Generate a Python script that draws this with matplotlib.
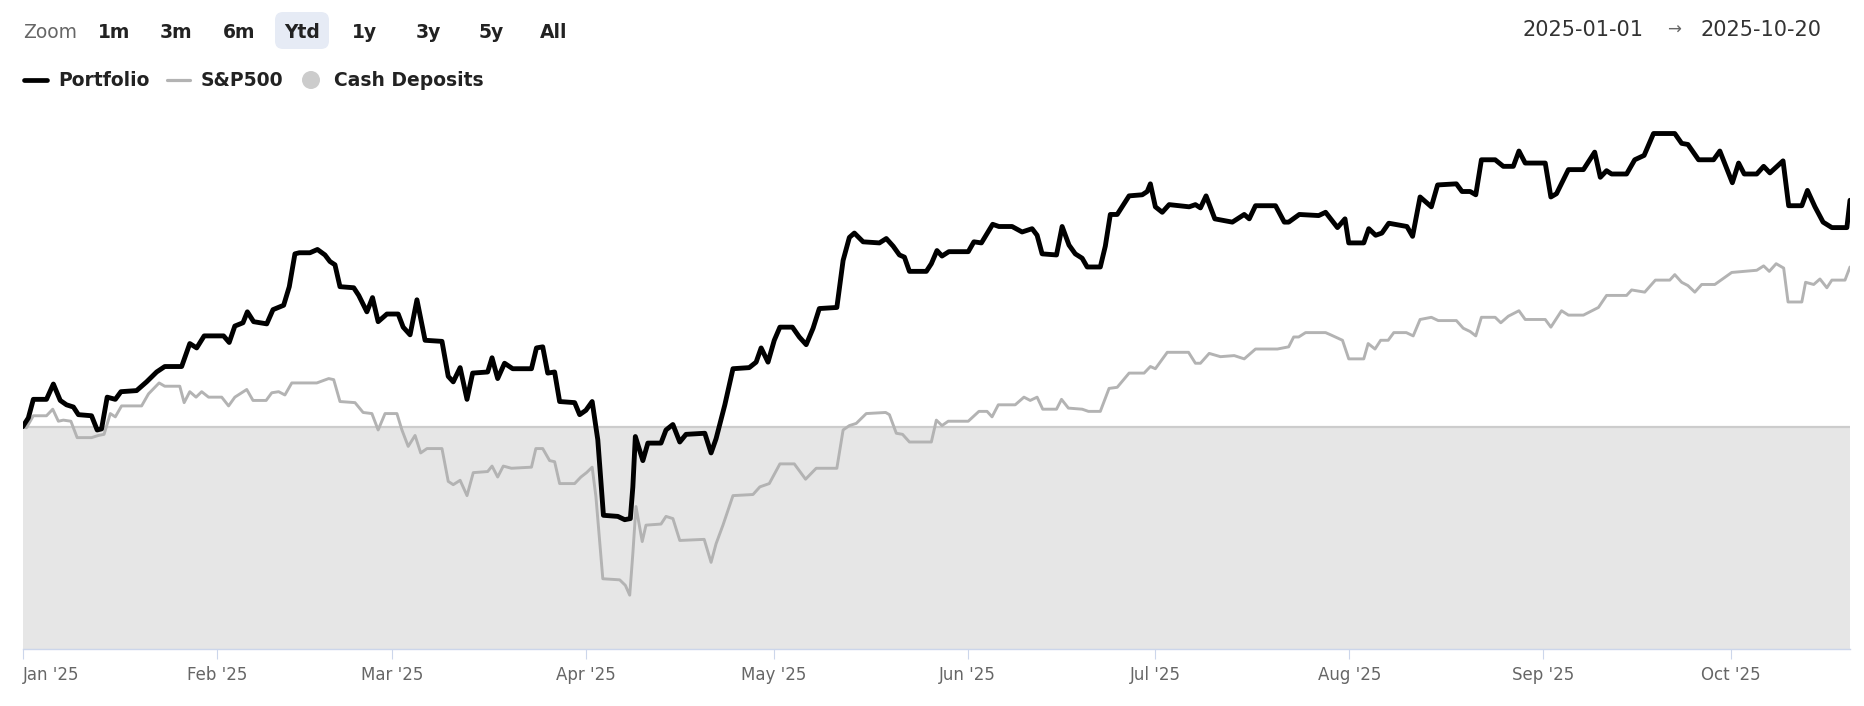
import pandas as pd
import matplotlib
matplotlib.use('Agg')
import matplotlib.pyplot as plt
import matplotlib.dates as mdates
from matplotlib.lines import Line2D
from matplotlib.patches import FancyBboxPatch, Circle

plt.rcParams['font.family'] = ['DejaVu Sans']

# date range shown (Ytd)
start = pd.Timestamp('2025-01-01')
end = pd.Timestamp('2025-10-20')

# days since 2025-01-01 and cumulative return (%)
portfolio_days = [
    0, 0.9, 1.7, 3.8, 4.9, 6.0, 7.0, 8.1, 8.9, 11.0, 11.9, 12.6, 13.5, 14.8, 15.7,
    18.2, 19.8, 21.4, 22.7, 25.4, 26.7, 27.8, 29.0, 32.1, 33.0, 33.9, 35.2, 35.9,
    36.9, 39.0, 40.0, 41.7, 42.6, 43.5, 44.2, 45.9, 47.1, 48.3, 49.1, 49.9, 50.7,
    52.9, 53.7, 55.0, 55.9, 56.8, 58.2, 60.0, 60.8, 61.9, 63.0, 64.3, 67.0, 68.0,
    68.8, 69.9, 71.0, 71.9, 74.3, 75.0, 75.9, 77.0, 78.3, 81.3, 82.1, 83.1, 83.9,
    85.0, 85.8, 88.2, 89.0, 90.0, 91.0, 91.9, 92.8, 95.1, 96.2, 97.1, 97.5, 97.9,
    99.1, 99.9, 102.0, 102.8, 103.9, 105.0, 106.0, 109.0, 110.0, 110.8, 112.2,
    113.5, 116.1, 117.2, 118.0, 119.1, 120.1, 121.0, 123.0, 124.1, 125.2, 126.3,
    127.3, 130.1, 131.1, 132.1, 132.9, 134.3, 136.9, 138.0, 139.1, 140.1, 140.9,
    141.7, 144.4, 145.2, 146.1, 146.9, 148.0, 151.1, 152.0, 153.2, 155.0, 156.0,
    158.1, 159.7, 161.3, 162.1, 162.9, 165.2, 166.1, 167.2, 168.2, 169.3, 170.1,
    172.2, 173.0, 173.8, 174.9, 176.8, 178.9, 179.7, 180.2, 181.0, 182.1, 183.2,
    186.4, 187.4, 188.2, 189.1, 190.5, 193.3, 195.2, 196.0, 197.0, 200.2, 201.6,
    202.3, 204.0, 207.1, 208.2, 210.1, 211.3, 211.9, 214.3, 215.1, 216.2, 217.2,
    218.3, 221.2, 222.1, 223.3, 225.1, 226.1, 229.1, 230.0, 231.3, 232.2, 233.1,
    235.3, 236.6, 238.2, 239.1, 240.1, 243.3, 244.2, 245.1, 247.0, 249.4, 251.2,
    252.1, 253.1, 253.9, 256.3, 257.6, 259.1, 260.6, 264.0, 265.1, 266.1, 267.8,
    270.2, 271.2, 273.2, 274.2, 275.1, 277.1, 278.2, 279.2, 281.3, 282.2, 284.3,
    285.2, 286.4, 287.7, 289.1, 291.5, 292.0,
]
portfolio_ret = [
    0.0, 0.8, 2.5, 2.5, 3.9, 2.4, 2.0, 1.8, 1.1, 1.0, -0.3, -0.2, 2.7, 2.5, 3.2,
    3.3, 4.1, 5.0, 5.5, 5.5, 7.6, 7.2, 8.3, 8.3, 7.7, 9.2, 9.5, 10.5,
    9.6, 9.4, 10.7, 11.1, 12.8, 15.8, 15.9, 15.9, 16.2, 15.7, 15.1, 14.8, 12.8,
    12.7, 12.0, 10.5, 11.8, 9.6, 10.3, 10.3, 9.1, 8.4, 11.6, 7.9, 7.8, 4.6,
    4.1, 5.4, 2.5, 4.9, 5.0, 6.3, 4.4, 5.8, 5.3, 5.3, 7.2, 7.3, 4.9,
    5.0, 2.3, 2.2, 1.1, 1.5, 2.3, -1.2, -8.1, -8.2, -8.5, -8.4, -5.5, -0.9,
    -3.1, -1.5, -1.5, -0.3, 0.2, -1.4, -0.7, -0.6, -2.4, -1.1, 2.0,
    5.3, 5.4, 5.9, 7.2, 5.9, 7.9, 9.1, 9.1, 8.2, 7.5, 9.0,
    10.8, 10.9, 15.2, 17.3, 17.7, 16.9, 16.8, 17.2, 16.5, 15.7, 15.5,
    14.2, 14.2, 14.9, 16.1, 15.6, 16.0, 16.0, 16.9, 16.8, 18.5, 18.3,
    18.3, 17.8, 18.1, 17.5, 15.8, 15.7, 18.3, 16.6, 15.8, 15.4, 14.6,
    14.6, 16.5, 19.4, 19.4, 21.1, 21.2, 21.5, 22.2, 20.1, 19.6, 20.3,
    20.1, 20.3, 20.0, 21.1, 19.0, 18.7, 19.4, 19.0, 20.2, 20.2, 18.7,
    18.7, 19.4, 19.3, 19.6, 18.2, 19.0, 16.8, 16.8, 18.1, 17.5, 17.7,
    18.6, 18.3, 17.4, 21.0, 20.1, 22.1, 22.2, 21.5, 21.5, 21.2, 24.4,
    24.4, 23.8, 23.8, 25.2, 24.1, 24.1, 21.0, 21.3, 23.5, 23.5, 25.1,
    22.8, 23.4, 23.1, 23.1, 24.4, 24.8, 26.8, 26.8, 25.9, 25.8, 24.4,
    24.4, 25.2, 22.3, 24.1, 23.1, 23.1, 23.8, 23.2, 24.3, 20.2, 20.2,
    21.6, 20.1, 18.7, 18.2, 18.2, 20.7,
]

sp500_days = [
    0, 0.6, 1.7, 3.8, 4.8, 5.7, 6.5, 7.7, 8.7, 11.0, 12.1, 13.0, 14.0, 14.8, 15.8,
    19.0, 20.1, 21.8, 22.7, 25.1, 25.8, 26.7, 27.7, 28.6, 29.7, 31.8, 32.9, 33.9,
    35.8, 36.8, 38.9, 39.8, 40.9, 41.9, 43.0, 47.0, 48.9, 49.7, 50.7, 53.1, 54.4,
    55.8, 56.8, 57.9, 59.8, 60.6, 61.6, 62.7, 63.6, 64.6, 67.0, 68.0, 68.8, 69.9,
    71.0, 72.0, 74.3, 75.0, 75.9, 76.8, 78.1, 81.3, 82.0, 83.1, 84.2, 85.0, 85.8,
    88.2, 89.2, 90.1, 91.0, 91.6, 92.7, 95.4, 96.3, 97.0, 97.5, 98.0, 99.0, 99.6,
    102.0, 102.8, 103.9, 105.0, 108.9, 110.0, 110.8, 111.9, 113.5, 116.7, 117.8,
    119.3, 121.0, 123.3, 125.1, 126.8, 130.1, 131.1, 132.1, 133.2, 134.8, 137.9,
    138.5, 139.6, 140.6, 141.7, 145.2, 146.0, 146.9, 147.9, 151.1, 152.8, 154.1,
    154.9, 155.9, 158.6, 160.0, 161.0, 162.1, 163.0, 165.2, 166.0, 167.1, 169.3,
    170.3, 172.2, 173.6, 174.9, 176.8, 179.2, 180.2, 181.0, 182.9, 186.3, 187.4,
    188.2, 189.6, 191.4, 193.6, 195.2, 197.0, 200.5, 202.3, 203.1, 203.9, 205.0,
    208.2, 209.0, 210.9, 211.9, 214.3, 215.0, 216.1, 217.0, 218.2, 219.1, 221.1,
    222.2, 223.3, 225.1, 226.2, 229.1, 230.2, 231.3, 232.2, 233.1, 235.3, 236.2,
    237.4, 239.1, 240.1, 243.3, 244.2, 245.9, 247.0, 249.4, 251.8, 253.1, 256.3,
    257.1, 259.2, 260.9, 263.2, 264.0, 265.1, 266.1, 267.2, 268.3, 270.4, 273.1,
    277.1, 278.2, 279.1, 280.2, 281.4, 282.1, 284.3, 284.9, 286.2, 287.2, 288.3,
    289.1, 291.2, 292.0,
]
sp500_ret = [
    0.0, -0.1, 1.0, 1.0, 1.6, 0.5, 0.6, 0.5, -1.0, -1.0, -0.8, -0.7, 1.2, 0.9, 1.9,
    1.9, 3.0, 4.0, 3.7, 3.7, 2.2, 3.2, 2.7, 3.2, 2.7, 2.7, 1.9, 2.7,
    3.4, 2.4, 2.4, 3.1, 3.2, 2.9, 4.0, 4.0, 4.4, 4.3, 2.3, 2.2, 1.3,
    1.2, -0.3, 1.2, 1.2, -0.3, -1.8, -0.8, -2.4, -2.0, -2.0, -5.0, -5.3, -4.9,
    -6.3, -4.2, -4.1, -3.6, -4.6, -3.6, -3.8, -3.7, -2.0, -2.0, -3.1, -3.2, -5.2,
    -5.2, -4.6, -4.2, -3.7, -6.4, -13.9, -14.0, -14.5, -15.4, -11.6, -7.3, -10.5, -9.0,
    -8.9, -8.2, -8.4, -10.4, -10.3, -12.4, -10.7, -9.0, -6.3, -6.2, -5.5,
    -5.2, -3.4, -3.4, -4.8, -3.8, -3.8, -0.3, 0.1, 0.3, 1.2, 1.3,
    1.1, -0.6, -0.7, -1.4, -1.4, 0.6, 0.1, 0.5, 0.5, 1.4, 1.4,
    0.9, 2.0, 2.0, 2.7, 2.4, 2.7, 1.6, 1.6, 2.5, 1.7, 1.6,
    1.4, 1.4, 3.5, 3.6, 4.9, 4.9, 5.5, 5.3, 6.8, 6.8, 5.8,
    5.8, 6.7, 6.4, 6.5, 6.2, 7.1, 7.1, 7.3, 8.2, 8.2, 8.6,
    8.6, 8.4, 7.9, 6.2, 6.2, 7.6, 7.1, 7.9, 7.9, 8.6, 8.6,
    8.3, 9.8, 10.0, 9.7, 9.7, 9.0, 8.7, 8.3, 10.0, 10.0, 9.5,
    10.1, 10.6, 9.8, 9.8, 9.1, 10.6, 10.2, 10.2, 10.9, 12.0, 12.0,
    12.5, 12.3, 13.4, 13.4, 13.9, 13.2, 12.9, 12.3, 13.0, 13.0, 14.1,
    14.3, 14.7, 14.2, 14.9, 14.5, 11.4, 11.4, 13.2, 13.0, 13.5, 12.7,
    13.4, 13.4, 14.6,
]

cash_days = [0, 292]
cash_ret = [0.0, 0.0]

zoom_buttons = ['1m', '3m', '6m', 'Ytd', '1y', '3y', '5y', 'All']
selected_button = 'Ytd'

W, H = 1864, 706
fig = plt.figure(figsize=(W / 100, H / 100), dpi=100)


def fx(x):
    return x / W


def fy(y):
    return 1 - y / H


def to_dates(days):
    return start + pd.to_timedelta(days, unit='D')


y_min, y_max = -20.34, 28.95
ax = fig.add_axes([fx(22.7), fy(649.2), fx(1850) - fx(22.7), fy(110) - fy(649.2)])

ax.fill_between(to_dates(cash_days), cash_ret, y_min, color='#e6e6e6', lw=0, zorder=1)
ax.plot(to_dates(cash_days), cash_ret, color='#cccccc', lw=1.6, zorder=2)
ax.plot(to_dates(sp500_days), sp500_ret, color='#b3b3b3', lw=2.1,
        solid_joinstyle='round', solid_capstyle='round', zorder=3)
ax.plot(to_dates(portfolio_days), portfolio_ret, color='black', lw=3.5,
        solid_joinstyle='round', solid_capstyle='round', zorder=4)

ax.set_xlim(start, end)
ax.set_ylim(y_min, y_max)
ax.xaxis.set_major_locator(mdates.MonthLocator())
ax.xaxis.set_major_formatter(mdates.DateFormatter("%b '%y"))
ax.tick_params(axis='x', length=7, width=0.8, color='#ccd6eb',
               labelcolor='#666666', labelsize=12, pad=5)
ax.yaxis.set_visible(False)
for side in ['top', 'left', 'right']:
    ax.spines[side].set_visible(False)
ax.spines['bottom'].set_color('#ccd6eb')
ax.spines['bottom'].set_linewidth(1.0)
ax.set_facecolor('none')

fig.canvas.draw()
ax.xaxis.get_major_ticks()[0].label1.set_horizontalalignment('left')

# range selector
fig.text(fx(23), fy(32), 'Zoom', fontsize=13.5, color='#666666', va='center', ha='left')
btn_x = [114, 176, 239, 302, 365, 428, 491, 554]
for label, x in zip(zoom_buttons, btn_x):
    if label == selected_button:
        box = FancyBboxPatch(((x - 27) / 100, (H - 49) / 100), 54 / 100, 37 / 100,
                             boxstyle='round,pad=0,rounding_size=0.08',
                             transform=fig.dpi_scale_trans, facecolor='#e6ebf5',
                             edgecolor='none', zorder=0)
        fig.add_artist(box)
    fig.text(fx(x), fy(32), label, fontsize=13.5, fontweight='bold', color='#222222',
             va='center', ha='center')

# date range
fig.text(fx(1522), fy(30), '2025-01-01', fontsize=15, color='#333333', va='center', ha='left')
fig.text(fx(1674), fy(30), '\u2192', fontsize=12, color='#666666', va='center', ha='center')
fig.text(fx(1701), fy(30), '2025-10-20', fontsize=15, color='#333333', va='center', ha='left')

# legend
fig.add_artist(Line2D([fx(24), fx(47)], [fy(80), fy(80)], transform=fig.transFigure,
                      color='black', lw=3.4, solid_capstyle='round'))
fig.text(fx(58), fy(80), 'Portfolio', fontsize=13.5, fontweight='bold', color='#222222',
         va='center', ha='left')
fig.add_artist(Line2D([fx(167), fx(190)], [fy(80), fy(80)], transform=fig.transFigure,
                      color='#b3b3b3', lw=2.3, solid_capstyle='round'))
fig.text(fx(201), fy(80), 'S&P500', fontsize=13.5, fontweight='bold', color='#222222',
         va='center', ha='left')
fig.add_artist(Circle((311 / 100, (H - 80) / 100), 9 / 100, transform=fig.dpi_scale_trans,
                      facecolor='#cccccc', edgecolor='none'))
fig.text(fx(334), fy(80), 'Cash Deposits', fontsize=13.5, fontweight='bold', color='#222222',
         va='center', ha='left')

fig.savefig('out.png', dpi=100)
